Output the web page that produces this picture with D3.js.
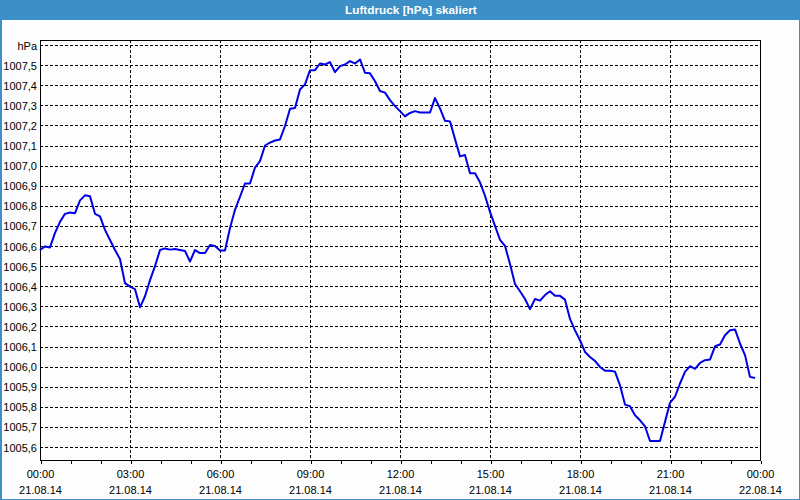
<!DOCTYPE html>
<html>
<head>
<meta charset="utf-8">
<script src="https://cdn.jsdelivr.net/npm/d3@7"></script>
<style>
  html, body { margin: 0; padding: 0; background: #fcfdfc; }
  svg { display: block; }
  text { font-family: "Liberation Sans", Arial, sans-serif; }
</style>
</head>
<body>
<svg id="chart" width="800" height="500"></svg>
<script>
// ---- data ----
const title = "Luftdruck [hPa] skaliert";
const unitLabel = "hPa";
const dayStart = "2014-08-21T00:00:00Z";
const times = [
  "00:00","00:10","00:20","00:30","00:40","00:50","01:00","01:10","01:20","01:30","01:40","01:50",
  "02:00","02:10","02:20","02:30","02:40","02:50","03:00","03:10","03:20","03:30","03:40","03:50",
  "04:00","04:10","04:20","04:30","04:40","04:50","05:00","05:10","05:20","05:30","05:40","05:50",
  "06:00","06:10","06:20","06:30","06:40","06:50","07:00","07:10","07:20","07:30","07:40","07:50",
  "08:00","08:10","08:20","08:30","08:40","08:50","09:00","09:10","09:20","09:30","09:40","09:50",
  "10:00","10:10","10:20","10:30","10:40","10:50","11:00","11:10","11:20","11:30","11:40","11:50",
  "12:00","12:10","12:20","12:30","12:40","12:50","13:00","13:10","13:20","13:30","13:40","13:50",
  "14:00","14:10","14:20","14:30","14:40","14:50","15:00","15:10","15:20","15:30","15:40","15:50",
  "16:00","16:10","16:20","16:30","16:40","16:50","17:00","17:10","17:20","17:30","17:40","17:50",
  "18:00","18:10","18:20","18:30","18:40","18:50","19:00","19:10","19:20","19:30","19:40","19:50",
  "20:00","20:10","20:20","20:30","20:40","20:50","21:00","21:10","21:20","21:30","21:40","21:50",
  "22:00","22:10","22:20","22:30","22:40","22:50","23:00","23:10","23:20","23:30","23:40","23:50"
];
const pressure = [
  1006.58,1006.598,1006.593,1006.665,1006.72,1006.76,1006.767,1006.763,1006.827,1006.852,1006.847,1006.76,
  1006.747,1006.68,1006.63,1006.58,1006.535,1006.415,1006.398,1006.385,1006.295,1006.35,1006.43,1006.5,
  1006.58,1006.588,1006.582,1006.585,1006.58,1006.575,1006.523,1006.58,1006.565,1006.565,1006.605,1006.6,
  1006.578,1006.578,1006.69,1006.78,1006.845,1006.911,1006.911,1006.99,1007.022,1007.1,1007.114,1007.125,
  1007.13,1007.197,1007.283,1007.286,1007.379,1007.404,1007.475,1007.475,1007.508,1007.503,1007.515,1007.465,
  1007.495,1007.503,1007.52,1007.508,1007.528,1007.462,1007.459,1007.42,1007.371,1007.363,1007.326,1007.296,
  1007.271,1007.245,1007.262,1007.271,1007.264,1007.264,1007.264,1007.336,1007.285,1007.223,1007.22,1007.132,
  1007.046,1007.053,1006.962,1006.962,1006.917,1006.85,1006.77,1006.7,1006.631,1006.601,1006.51,1006.411,
  1006.375,1006.336,1006.286,1006.336,1006.328,1006.356,1006.375,1006.352,1006.352,1006.333,1006.237,1006.18,
  1006.131,1006.073,1006.048,1006.028,1005.998,1005.979,1005.979,1005.975,1005.907,1005.811,1005.803,1005.758,
  1005.733,1005.703,1005.63,1005.63,1005.63,1005.725,1005.82,1005.85,1005.916,1005.974,1006.002,1005.989,
  1006.018,1006.032,1006.035,1006.101,1006.11,1006.156,1006.181,1006.185,1006.115,1006.057,1005.949,1005.943
];
const yTickValues = [1005.6,1005.7,1005.8,1005.9,1006.0,1006.1,1006.2,1006.3,1006.4,1006.5,1006.6,1006.7,1006.8,1006.9,1007.0,1007.1,1007.2,1007.3,1007.4,1007.5];
const yUnitValue = 1007.6;
const xTickTimes = ["2014-08-21T00:00:00Z","2014-08-21T03:00:00Z","2014-08-21T06:00:00Z","2014-08-21T09:00:00Z","2014-08-21T12:00:00Z","2014-08-21T15:00:00Z","2014-08-21T18:00:00Z","2014-08-21T21:00:00Z","2014-08-22T00:00:00Z"];
const xTickTimeLabels = ["00:00","03:00","06:00","09:00","12:00","15:00","18:00","21:00","00:00"];
const xTickDateLabels = ["21.08.14","21.08.14","21.08.14","21.08.14","21.08.14","21.08.14","21.08.14","21.08.14","22.08.14"];
const xDomain = ["2014-08-21T00:00:00Z","2014-08-22T00:00:00Z"];

// ---- layout ----
const W = 800, H = 500;
const plot = { left: 40, right: 760, top: 40, bottom: 460 };
const svg = d3.select("#chart");

// frame & title bar
svg.append("rect").attr("x", 0.5).attr("y", 0.5).attr("width", W - 1).attr("height", H - 1)
  .attr("fill", "#fcfdfc").attr("stroke", "#3d8fc7").attr("stroke-width", 1);
svg.append("rect").attr("x", 0).attr("y", 0).attr("width", 2).attr("height", H).attr("fill", "#3d8fc7");
svg.append("rect").attr("x", 0).attr("y", 0).attr("width", W).attr("height", 20).attr("fill", "#3d8fc7");
svg.append("text").attr("x", 345).attr("y", 14).attr("text-anchor", "start")
  .attr("fill", "#ffffff").attr("font-weight", "bold").attr("font-size", "11.8px").text(title);

// scales
const x = d3.scaleUtc().domain(xDomain.map(d => new Date(d))).range([plot.left, plot.right]);
const y = d3.scaleLinear().domain([1005.6, 1007.6]).range([447, 45]);
const fmt = d3.formatLocale({ decimal: ",", thousands: ".", grouping: [3], currency: ["", "€"] }).format(".1f");

const data = times.map((t, i) => ({ t: new Date(dayStart.slice(0, 11) + t + ":00Z"), v: pressure[i] }));

// grid
const grid = svg.append("g").attr("stroke", "#000").attr("stroke-dasharray", "3,2").attr("shape-rendering", "crispEdges");
grid.selectAll("line.h").data(yTickValues.concat([yUnitValue])).join("line").attr("class", "h")
  .attr("x1", plot.left).attr("x2", plot.right)
  .attr("y1", d => Math.round(y(d)) + 0.5).attr("y2", d => Math.round(y(d)) + 0.5);
grid.selectAll("line.v").data(xTickTimes.slice(1, -1)).join("line").attr("class", "v")
  .attr("x1", d => Math.round(x(new Date(d))) + 0.5).attr("x2", d => Math.round(x(new Date(d))) + 0.5)
  .attr("y1", plot.top).attr("y2", plot.bottom);

// plot border
svg.append("rect").attr("x", plot.left + 0.5).attr("y", plot.top + 0.5)
  .attr("width", plot.right - plot.left).attr("height", plot.bottom - plot.top)
  .attr("fill", "none").attr("stroke", "#000").attr("shape-rendering", "crispEdges");

// x axis: hourly ticks
const xAxis = d3.axisBottom(x).ticks(d3.utcHour.every(1)).tickSize(3).tickFormat("");
const gx = svg.append("g").attr("transform", `translate(0.5,${plot.bottom + 0.5})`).call(xAxis);
gx.select(".domain").remove();
gx.selectAll("line").attr("shape-rendering", "crispEdges");

// x labels (two lines)
const xl = svg.append("g").attr("font-size", "11px").attr("fill", "#000").attr("text-anchor", "middle");
xTickTimes.forEach((d, i) => {
  const px = x(new Date(d)) + 0.5;
  xl.append("text").attr("x", px).attr("y", 478).text(xTickTimeLabels[i]);
  xl.append("text").attr("x", px).attr("y", 494).text(xTickDateLabels[i]);
});

// y axis labels
const yAxis = d3.axisLeft(y).tickValues(yTickValues.concat([yUnitValue])).tickSize(0).tickPadding(3)
  .tickFormat(d => d === yUnitValue ? unitLabel : fmt(d));
const gy = svg.append("g").attr("transform", `translate(${plot.left},0.5)`).call(yAxis);
gy.select(".domain").remove();
gy.selectAll("text").attr("font-size", "11px").attr("font-family", "'Liberation Sans', Arial, sans-serif").attr("fill", "#000");

// line
const line = d3.line().x(d => x(d.t)).y(d => y(d.v));
svg.append("path").datum(data).attr("d", line)
  .attr("fill", "none").attr("stroke", "#0000e6").attr("stroke-width", 2).attr("stroke-linejoin", "round");
</script>
</body>
</html>
